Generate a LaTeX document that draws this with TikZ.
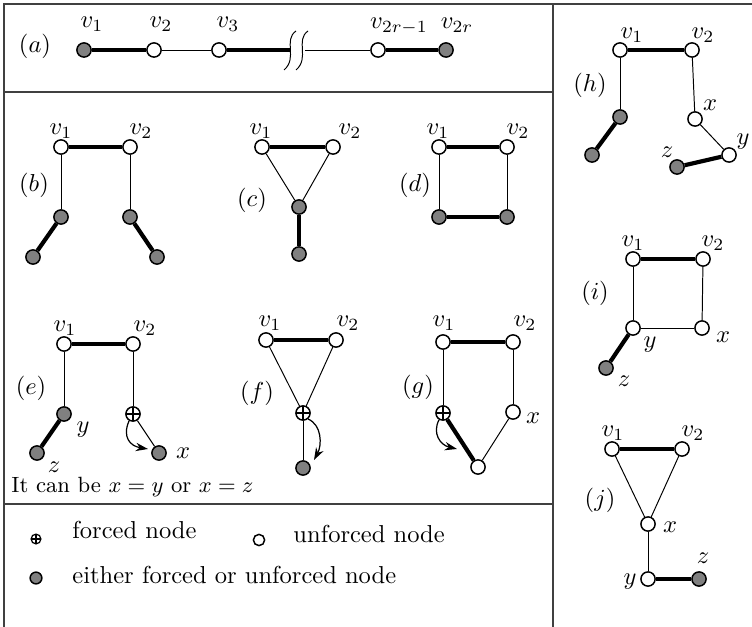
\documentclass[tikz,border=0pt]{standalone}
\usetikzlibrary{arrows.meta}
\begin{document}
\begin{tikzpicture}[x=0.408pt,y=-0.408pt]
\tikzset{
 wn/.style={circle,draw,fill=white,inner sep=0pt,minimum size=5.8pt,line width=0.6pt},
 gn/.style={wn,fill=gray},
 fn/.style={wn,path picture={\draw[line width=0.5pt] (path picture bounding box.north) -- (path picture bounding box.south) (path picture bounding box.west) -- (path picture bounding box.east);}},
 thk/.style={line width=1.7pt},
 thn/.style={line width=0.4pt},
 lbl/.style={inner sep=0pt},
 farrow/.style={-{Stealth[length=5pt,width=3.4pt]},line width=0.5pt},
 frame/.style={line width=0.5pt,draw=black!75}
}
\useasboundingbox (0,0) rectangle (752,627);
% frame
\draw[frame] (4,627) -- (4,4) -- (752,4);
\draw[frame] (553,4) -- (553,627);
\draw[frame] (4,92) -- (553,92);
\draw[frame] (4,504) -- (553,504);

% (a)
\node[lbl] (la) at (35,46) {$(a)$};
\node[gn] (a1) at (84,50) {};
\node[wn] (a2) at (154,50) {};
\node[wn] (a3) at (219,50) {};
\coordinate (ab1) at (291,50);
\coordinate (ab2) at (305,50);
\node[wn] (a4) at (378,50) {};
\node[gn] (a5) at (446,50) {};
\draw[thk] (a1) -- (a2);
\draw[thn] (a2) -- (a3);
\draw[thk] (a3) -- (ab1);
\draw[thn] (ab2) -- (a4);
\draw[thk] (a4) -- (a5);
\draw[thn] (296,31) .. controls (283,40) and (298,58) .. (284,70);
\draw[thn] (308,31) .. controls (295,40) and (310,58) .. (296,70);
\node[lbl] at (92,24) {$v_1$};
\node[lbl] at (161,24) {$v_2$};
\node[lbl] at (228,24) {$v_3$};
\node[lbl] at (399,26) {$v_{2r-1}$};
\node[lbl] at (457,25) {$v_{2r}$};

% (b)
\node[lbl] (lb) at (34,185) {$(b)$};
\node[wn] (b1) at (61,147) {};
\node[wn] (b2) at (130,147) {};
\node[gn] (b3) at (61,217) {};
\node[gn] (b4) at (130,217) {};
\node[gn] (b5) at (33,257) {};
\node[gn] (b6) at (157,257) {};
\draw[thk] (b1) -- (b2);
\draw[thn] (b1) -- (b3);
\draw[thn] (b2) -- (b4);
\draw[thk] (b3) -- (b5);
\draw[thk] (b4) -- (b6);
\node[lbl] at (61,131) {$v_1$};
\node[lbl] at (141,131) {$v_2$};

% (c)
\node[lbl] (lc) at (252,200) {$(c)$};
\node[wn] (c1) at (262,147) {};
\node[wn] (c2) at (333,147) {};
\node[gn] (c3) at (299,207) {};
\node[gn] (c4) at (299,254) {};
\draw[thk] (c1) -- (c2);
\draw[thn] (c1) -- (c3);
\draw[thn] (c2) -- (c3);
\draw[thk] (c3) -- (c4);
\node[lbl] at (261,131) {$v_1$};
\node[lbl] at (350,131) {$v_2$};

% (d)
\node[lbl] (ld) at (415,185) {$(d)$};
\node[wn] (d1) at (439,147) {};
\node[wn] (d2) at (507,147) {};
\node[gn] (d3) at (439,217) {};
\node[gn] (d4) at (507,217) {};
\draw[thk] (d1) -- (d2);
\draw[thn] (d1) -- (d3);
\draw[thn] (d2) -- (d4);
\draw[thk] (d3) -- (d4);
\node[lbl] at (438,131) {$v_1$};
\node[lbl] at (518,131) {$v_2$};

% (e)
\node[lbl] (le) at (31,388) {$(e)$};
\node[wn] (e1) at (64,344) {};
\node[wn] (e2) at (133,344) {};
\node[gn] (e3) at (64,414) {};
\node[gn] (e4) at (37,453) {};
\node[fn] (e5) at (133,414) {};
\node[gn] (e6) at (159,453) {};
\draw[thk] (e1) -- (e2);
\draw[thn] (e1) -- (e3);
\draw[thk] (e3) -- (e4);
\draw[thn] (e2) -- (e5);
\draw[thn] (e5) -- (e6);
\draw[farrow] (e5.240) .. controls (122,437) and (130,446) .. (148,449);
\node[lbl] at (65,328) {$v_1$};
\node[lbl] at (145,328) {$v_2$};
\node[lbl] at (83,430) {$y$};
\node[lbl] at (54,467) {$z$};
\node[lbl] at (183,453) {$x$};
\node[lbl,anchor=base west,font=\small] at (11,492) {It can be $x=y$ or $x=z$};

% (f)
\node[lbl] (lf) at (257,393) {$(f)$};
\node[wn] (f1) at (266,340) {};
\node[wn] (f2) at (336,340) {};
\node[fn] (f3) at (303,413) {};
\node[gn] (f4) at (303,468) {};
\draw[thk] (f1) -- (f2);
\draw[thn] (f1) -- (f3);
\draw[thn] (f2) -- (f3);
\draw[thn] (f3) -- (f4);
\draw[farrow] (f3.-50) .. controls (322,425) and (322,445) .. (314,460);
\node[lbl] at (270,323) {$v_1$};
\node[lbl] at (348,323) {$v_2$};

% (g)
\node[lbl] (lg) at (418,387) {$(g)$};
\node[wn] (g1) at (443,342) {};
\node[wn] (g2) at (513,342) {};
\node[fn] (g3) at (443,413) {};
\node[wn] (g4) at (513,412) {};
\node[wn] (g5) at (478,467) {};
\draw[thk] (g1) -- (g2);
\draw[thn] (g1) -- (g3);
\draw[thn] (g2) -- (g4);
\draw[thk] (g3) -- (g5);
\draw[thn] (g4) -- (g5);
\draw[farrow] (g3.240) .. controls (432,433) and (440,445) .. (457,449);
\node[lbl] at (444,323) {$v_1$};
\node[lbl] at (525,323) {$v_2$};
\node[lbl] at (533,418) {$x$};

% legend
\node[fn,minimum size=4pt,line width=0.5pt] (k1) at (36,539) {};
\node[lbl,anchor=base west] at (72,538) {forced node};
\node[wn,minimum size=4.6pt] (k2) at (259,540) {};
\node[lbl,anchor=base west] at (293,542) {unforced node};
\node[gn,minimum size=4.8pt] (k3) at (36,578) {};
\node[lbl,anchor=base west] at (72,583) {either forced or unforced node};

% (h)
\node[lbl] (lh) at (590,85) {$(h)$};
\node[wn] (h1) at (620,50) {};
\node[wn] (h2) at (692,50) {};
\node[gn] (h3) at (620,117) {};
\node[gn] (h4) at (592,155) {};
\node[wn] (h5) at (695,119) {};
\node[wn] (h6) at (729,155) {};
\node[gn] (h7) at (677,167) {};
\draw[thk] (h1) -- (h2);
\draw[thn] (h1) -- (h3);
\draw[thk] (h3) -- (h4);
\draw[thn] (h2) -- (h5);
\draw[thn] (h5) -- (h6);
\draw[thk] (h6) -- (h7);
\node[lbl] at (632,35) {$v_1$};
\node[lbl] at (703,35) {$v_2$};
\node[lbl] at (710,105) {$x$};
\node[lbl] at (743,142) {$y$};
\node[lbl] at (667,152) {$z$};

% (i)
\node[lbl] (li) at (595,293) {$(i)$};
\node[wn] (i1) at (633,259) {};
\node[wn] (i2) at (703,259) {};
\node[wn] (i3) at (633,328) {};
\node[wn] (i4) at (702,328) {};
\node[gn] (i5) at (606,368) {};
\draw[thk] (i1) -- (i2);
\draw[thn] (i1) -- (i3);
\draw[thn] (i2) -- (i4);
\draw[thn] (i3) -- (i4);
\draw[thk] (i3) -- (i5);
\node[lbl] at (633,243) {$v_1$};
\node[lbl] at (713,243) {$v_2$};
\node[lbl] at (650,345) {$y$};
\node[lbl] at (723,337) {$x$};
\node[lbl] at (624,381) {$z$};

% (j)
\node[lbl] (lj) at (600,500) {$(j)$};
\node[wn] (j1) at (612,449) {};
\node[wn] (j2) at (682,449) {};
\node[wn] (j3) at (648,524) {};
\node[wn] (j4) at (648,579) {};
\node[gn] (j5) at (699,579) {};
\draw[thk] (j1) -- (j2);
\draw[thn] (j1) -- (j3);
\draw[thn] (j2) -- (j3);
\draw[thn] (j3) -- (j4);
\draw[thk] (j4) -- (j5);
\node[lbl] at (613,433) {$v_1$};
\node[lbl] at (693,433) {$v_2$};
\node[lbl] at (670,527) {$x$};
\node[lbl] at (630,582) {$y$};
\node[lbl] at (703,558) {$z$};
\end{tikzpicture}
\end{document}
